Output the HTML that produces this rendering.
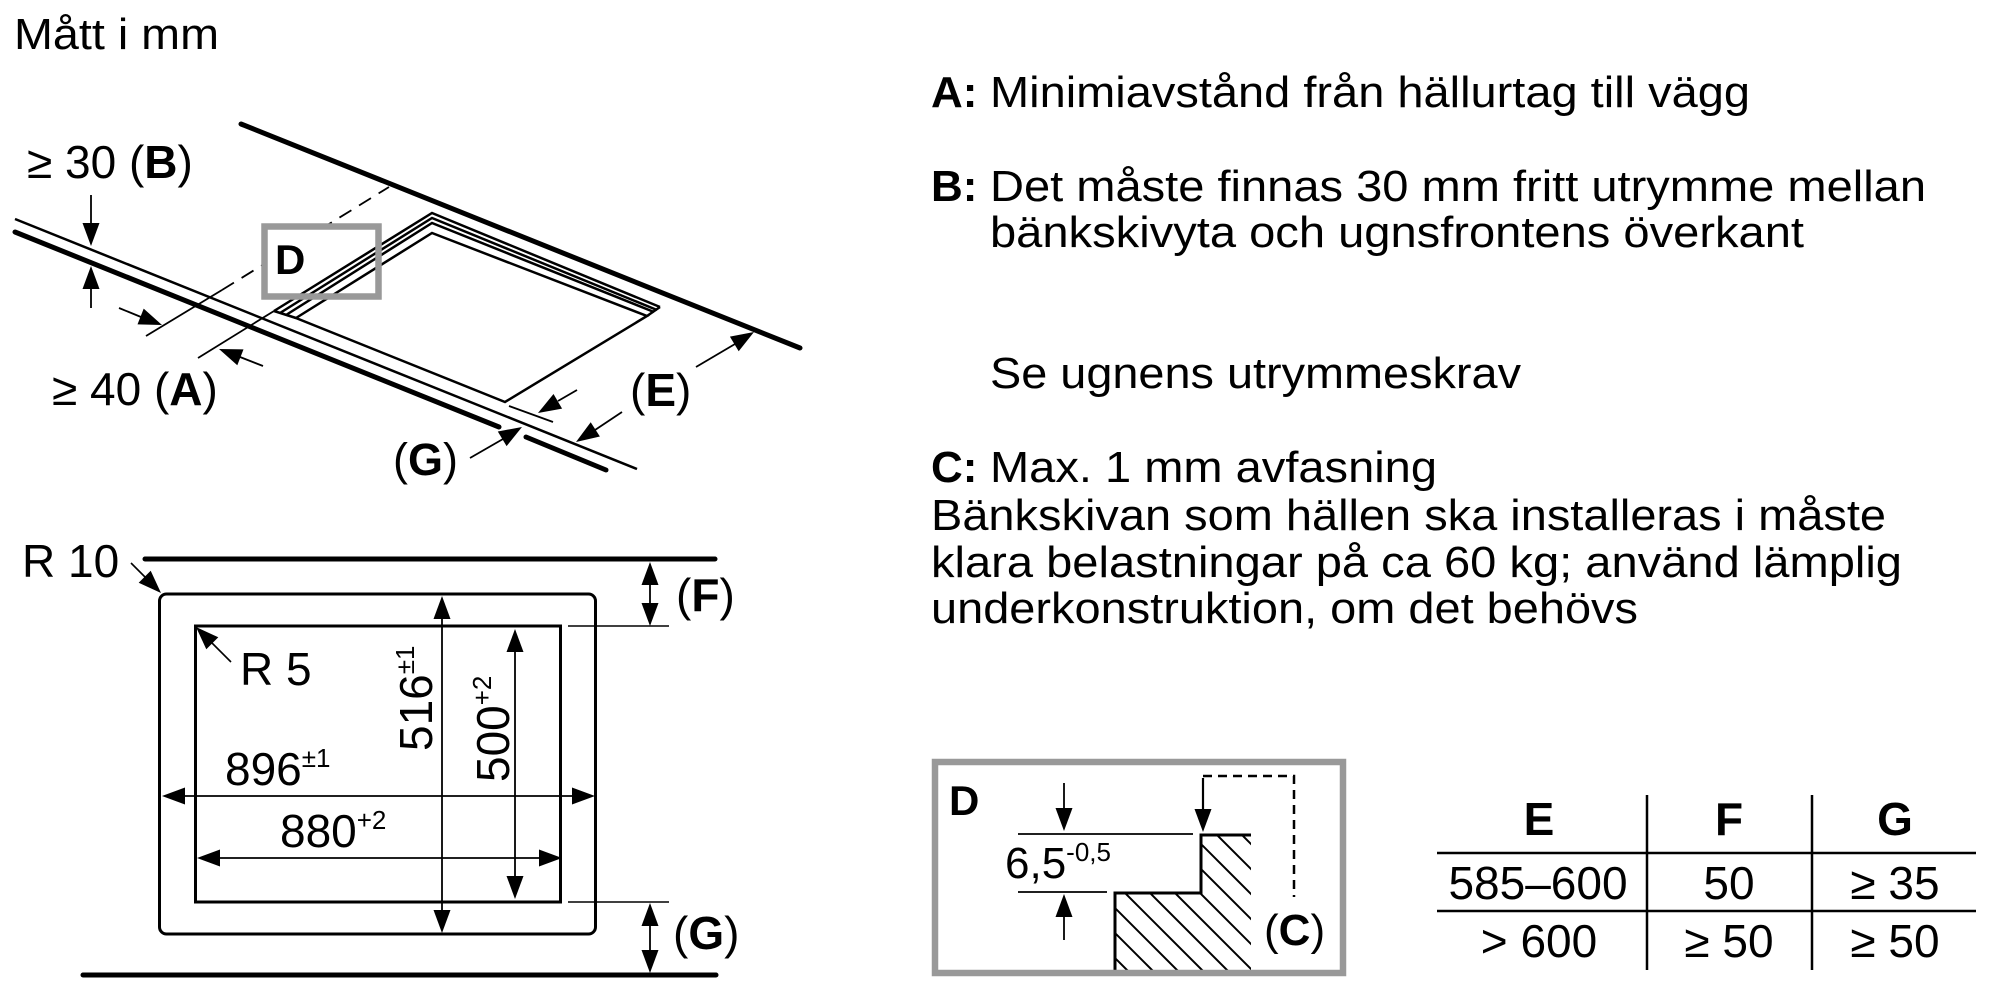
<!DOCTYPE html>
<html><head><meta charset="utf-8">
<style>
html,body{margin:0;padding:0;background:#fff;}
svg{display:block;}
text{font-family:"Liberation Sans",Arial,sans-serif;fill:#000;}
</style></head>
<body>
<svg width="2000" height="1000" viewBox="0 0 2000 1000" xmlns="http://www.w3.org/2000/svg">
<rect x="0" y="0" width="2000" height="1000" fill="#fff"/>

<!-- ============ TOP-LEFT ISOMETRIC DIAGRAM ============ -->
<text x="14" y="49" font-size="44" textLength="205" lengthAdjust="spacingAndGlyphs">Mått i mm</text>

<g stroke="#000" fill="none">
  <line x1="241" y1="124" x2="800" y2="348" stroke-width="5" stroke-linecap="round"/>
  <line x1="15" y1="219" x2="637" y2="469" stroke-width="2.5"/>
  <line x1="15" y1="232" x2="499" y2="427" stroke-width="5" stroke-linecap="round"/>
  <line x1="526" y1="437" x2="606" y2="470" stroke-width="5" stroke-linecap="round"/>
  <!-- extension lines -->
  <line x1="146" y1="336" x2="222" y2="290" stroke-width="1.8"/>
  <line x1="222" y1="290" x2="389" y2="187" stroke-width="1.8" stroke-dasharray="14 9"/>
  <line x1="198" y1="358" x2="274" y2="311" stroke-width="1.8"/>
  <line x1="509" y1="406" x2="553" y2="422" stroke-width="1.8"/>
  <!-- arrow shafts -->
  <line x1="91" y1="195" x2="91" y2="224" stroke-width="1.8"/>
  <line x1="91" y1="308" x2="91" y2="288" stroke-width="1.8"/>
  <line x1="119" y1="308" x2="141" y2="317" stroke-width="1.8"/>
  <line x1="263" y1="366" x2="240" y2="357" stroke-width="1.8"/>
  <line x1="696" y1="367" x2="735" y2="344" stroke-width="1.8"/>
  <line x1="622" y1="412" x2="595" y2="430" stroke-width="1.8"/>
  <line x1="577" y1="390" x2="558" y2="401" stroke-width="1.8"/>
  <line x1="470" y1="458" x2="503" y2="439" stroke-width="1.8"/>
</g>
<g fill="#000" stroke="none">
  <polygon points="91,246 82.5,223 99.5,223"/>
  <polygon points="91,266 82.5,289 99.5,289"/>
  <polygon points="162,325 137.5,324.4 143.7,308.6"/>
  <polygon points="219,349 243.5,349.4 237.3,365.2"/>
  <polygon points="754,332 738.7,351.2 729.9,336.6"/>
  <polygon points="576,442 590.7,422.3 599.9,436.5"/>
  <polygon points="538,413 553.5,394 562.1,408.6"/>
  <polygon points="522,427 506.6,446.1 497.8,431.5"/>
</g>

<!-- D box fill -->
<rect x="264.5" y="226.5" width="114" height="70" fill="#fff" stroke="none"/>

<!-- hob frame -->
<g stroke="#000" fill="none" stroke-width="2.5" stroke-linejoin="miter">
  <polyline points="274,311 432,213 660,307"/>
  <polyline points="280,313 432,218 657,310"/>
  <polyline points="286,315 432,223 654,312"/>
  <polygon points="296,318 432,233 647,316 505,402"/>
  <line x1="274" y1="311" x2="296" y2="318"/>
  <line x1="660" y1="307" x2="647" y2="316"/>
</g>

<rect x="264.5" y="226.5" width="114" height="70" fill="none" stroke="#999" stroke-width="6.5"/>
<text x="275" y="274" font-size="42" font-weight="bold">D</text>

<text x="27" y="178" font-size="46">≥ 30 (<tspan font-weight="bold">B</tspan>)</text>
<text x="52" y="405" font-size="46">≥ 40 (<tspan font-weight="bold">A</tspan>)</text>
<text x="630" y="406" font-size="46">(<tspan font-weight="bold">E</tspan>)</text>
<text x="393" y="475" font-size="45">(<tspan font-weight="bold">G</tspan>)</text>

<!-- ============ BOTTOM-LEFT CUTOUT DIAGRAM ============ -->
<g stroke="#000" fill="none">
  <line x1="145" y1="559" x2="715" y2="559" stroke-width="5" stroke-linecap="round"/>
  <line x1="83" y1="975" x2="716" y2="975" stroke-width="5" stroke-linecap="round"/>
  <rect x="159.5" y="594" width="436" height="340" rx="7" ry="7" stroke-width="3"/>
  <rect x="195.5" y="626" width="365" height="276" stroke-width="3"/>
  <!-- extension lines -->
  <line x1="568" y1="626" x2="669" y2="626" stroke-width="1.6"/>
  <line x1="568" y1="902" x2="669" y2="902" stroke-width="1.6"/>
  <!-- dimension lines -->
  <line x1="442" y1="600" x2="442" y2="929" stroke-width="1.8"/>
  <line x1="515" y1="632" x2="515" y2="896" stroke-width="1.8"/>
  <line x1="166" y1="796" x2="591" y2="796" stroke-width="1.8"/>
  <line x1="201" y1="858" x2="558" y2="858" stroke-width="1.8"/>
  <line x1="650" y1="580" x2="650" y2="608" stroke-width="1.8"/>
  <line x1="650" y1="920" x2="650" y2="955" stroke-width="1.8"/>
  <line x1="131" y1="563" x2="146" y2="578" stroke-width="1.6"/>
  <line x1="231" y1="662" x2="211" y2="642" stroke-width="1.6"/>
</g>
<g fill="#000" stroke="none">
  <polygon points="161,593 138.7,582.7 150.7,570.7"/>
  <polygon points="196,627 218.3,637.3 206.3,649.3"/>
  <polygon points="442,596 433.5,619 450.5,619"/>
  <polygon points="442,933 433.5,910 450.5,910"/>
  <polygon points="515,629 506.5,652 523.5,652"/>
  <polygon points="515,899 506.5,876 523.5,876"/>
  <polygon points="162,796 185,787.5 185,804.5"/>
  <polygon points="595,796 572,787.5 572,804.5"/>
  <polygon points="197,858 220,849.5 220,866.5"/>
  <polygon points="562,858 539,849.5 539,866.5"/>
  <polygon points="650,562 641.5,585 658.5,585"/>
  <polygon points="650,626 641.5,603 658.5,603"/>
  <polygon points="650,903 641.5,926 658.5,926"/>
  <polygon points="650,973 641.5,950 658.5,950"/>
</g>

<text x="22" y="577" font-size="46">R 10</text>
<text x="240" y="685" font-size="46">R 5</text>
<text x="225" y="785" font-size="46">896<tspan font-size="26" dy="-18">±1</tspan></text>
<text x="280" y="847" font-size="46">880<tspan font-size="26" dy="-18">+2</tspan></text>
<text transform="translate(432,751) rotate(-90)" font-size="46">516<tspan font-size="26" dy="-18">±1</tspan></text>
<text transform="translate(509,782) rotate(-90)" font-size="46">500<tspan font-size="26" dy="-18">+2</tspan></text>
<text x="676" y="611" font-size="46">(<tspan font-weight="bold">F</tspan>)</text>
<text x="673" y="949" font-size="46">(<tspan font-weight="bold">G</tspan>)</text>

<!-- ============ RIGHT TEXT ============ -->
<g font-size="44">
  <text x="931" y="107"><tspan font-weight="bold">A:</tspan></text>
  <text x="990" y="107" textLength="760" lengthAdjust="spacingAndGlyphs">Minimiavstånd från hällurtag till vägg</text>
  <text x="931" y="201"><tspan font-weight="bold">B:</tspan></text>
  <text x="990" y="201" textLength="936" lengthAdjust="spacingAndGlyphs">Det måste finnas 30 mm fritt utrymme mellan</text>
  <text x="990" y="247" textLength="814" lengthAdjust="spacingAndGlyphs">bänkskivyta och ugnsfrontens överkant</text>
  <text x="990" y="388" textLength="531" lengthAdjust="spacingAndGlyphs">Se ugnens utrymmeskrav</text>
  <text x="931" y="482"><tspan font-weight="bold">C:</tspan></text>
  <text x="990" y="482" textLength="447" lengthAdjust="spacingAndGlyphs">Max. 1 mm avfasning</text>
  <text x="931" y="530" textLength="955" lengthAdjust="spacingAndGlyphs">Bänkskivan som hällen ska installeras i måste</text>
  <text x="931" y="577" textLength="971" lengthAdjust="spacingAndGlyphs">klara belastningar på ca 60 kg; använd lämplig</text>
  <text x="931" y="623" textLength="707" lengthAdjust="spacingAndGlyphs">underkonstruktion, om det behövs</text>
</g>

<!-- ============ D DETAIL ============ -->
<defs>
  <clipPath id="hc">
    <polygon points="1201,835 1251,835 1251,970 1115,970 1115,893 1201,893"/>
  </clipPath>
</defs>
<g clip-path="url(#hc)" stroke="#000" stroke-width="2">
  <line x1="987" y1="830" x2="1137" y2="980"/>
  <line x1="1012" y1="830" x2="1162" y2="980"/>
  <line x1="1037" y1="830" x2="1187" y2="980"/>
  <line x1="1062" y1="830" x2="1212" y2="980"/>
  <line x1="1087" y1="830" x2="1237" y2="980"/>
  <line x1="1112" y1="830" x2="1262" y2="980"/>
  <line x1="1137" y1="830" x2="1287" y2="980"/>
  <line x1="1162" y1="830" x2="1312" y2="980"/>
  <line x1="1187" y1="830" x2="1337" y2="980"/>
  <line x1="1212" y1="830" x2="1362" y2="980"/>
  <line x1="1237" y1="830" x2="1387" y2="980"/>
</g>
<g stroke="#000" fill="none">
  <polyline points="1251,835 1201,835 1201,893 1115,893 1115,972" stroke-width="3"/>
  <line x1="1018" y1="834" x2="1193" y2="834" stroke-width="1.8"/>
  <line x1="1018" y1="892" x2="1107" y2="892" stroke-width="1.8"/>
  <line x1="1064" y1="783" x2="1064" y2="810" stroke-width="1.8"/>
  <line x1="1064" y1="915" x2="1064" y2="940" stroke-width="1.8"/>
  <line x1="1203" y1="778" x2="1203" y2="810" stroke-width="2.2"/>
  <polyline points="1203,776 1294,776 1294,897" stroke-width="2.5" stroke-dasharray="9 6"/>
</g>
<g fill="#000">
  <polygon points="1064,831 1055.5,808 1072.5,808"/>
  <polygon points="1064,894 1055.5,917 1072.5,917"/>
  <polygon points="1203,832 1194.5,809 1211.5,809"/>
</g>
<rect x="935" y="762" width="408" height="211" fill="none" stroke="#999" stroke-width="6.5"/>
<text x="949" y="815" font-size="42" font-weight="bold">D</text>
<text x="1005" y="878" font-size="44">6,5<tspan font-size="26" dy="-17">-0,5</tspan></text>
<text x="1264" y="945" font-size="44">(<tspan font-weight="bold">C</tspan>)</text>

<!-- ============ TABLE ============ -->
<g stroke="#000" stroke-width="2.5">
  <line x1="1437" y1="853" x2="1976" y2="853"/>
  <line x1="1437" y1="911" x2="1976" y2="911"/>
  <line x1="1647" y1="795" x2="1647" y2="970"/>
  <line x1="1812" y1="795" x2="1812" y2="970"/>
</g>
<g font-size="46" text-anchor="middle">
  <text x="1539" y="835" font-weight="bold">E</text>
  <text x="1729" y="835" font-weight="bold">F</text>
  <text x="1895" y="835" font-weight="bold">G</text>
  <text x="1538" y="899">585–600</text>
  <text x="1729" y="899">50</text>
  <text x="1895" y="899">≥ 35</text>
  <text x="1539" y="957">&gt; 600</text>
  <text x="1729" y="957">≥ 50</text>
  <text x="1895" y="957">≥ 50</text>
</g>
</svg>
</body></html>
